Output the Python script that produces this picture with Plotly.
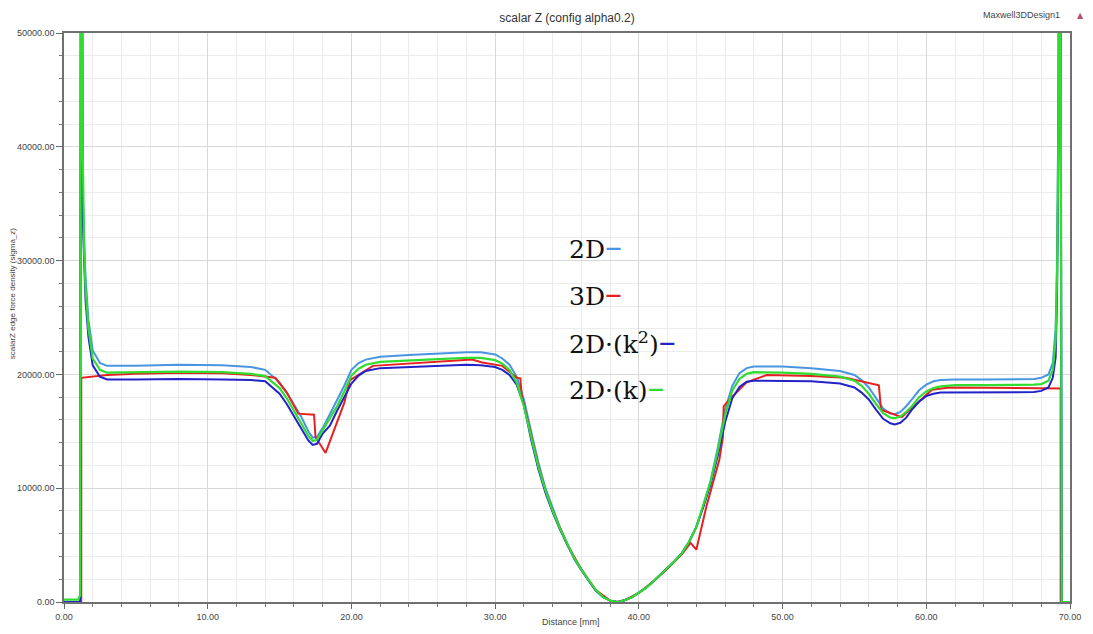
import plotly.graph_objects as go

# ---------------- data ----------------
distance_mm = [
    0.0, 1.0, 1.12, 1.2, 1.3, 1.4, 1.5, 1.7, 2.0, 2.5, 3.0,
    5.0, 8.0, 11.0, 13.0, 14.0, 15.0, 15.5, 16.0, 16.5, 17.0,
    17.3, 17.6, 18.0, 18.5, 19.0, 19.5, 20.0, 20.5, 21.0, 22.0,
    24.0, 26.0, 28.0, 29.0, 30.0, 30.5, 31.0, 31.5, 32.0, 32.5,
    33.0, 33.5, 34.0, 34.5, 35.0, 35.5, 36.0, 36.5, 37.0, 37.5,
    38.0, 38.5, 39.0, 39.5, 40.0, 40.5, 41.0, 41.5, 42.0, 42.5,
    43.0, 43.5, 44.0, 44.5, 45.0, 45.5, 46.0, 46.5, 47.0, 47.5,
    48.0, 50.0, 52.0, 54.0, 55.0, 55.5, 56.0, 56.5, 57.0, 57.5,
    57.8, 58.2, 58.6, 59.0, 59.5, 60.0, 60.5, 61.0, 62.0, 64.0,
    66.0, 67.5, 68.0, 68.5, 68.8, 69.0, 69.1, 69.2, 69.3, 69.42, 70.0,
]

sigma_2d = [
    0, 0, 0, 90000, 36000, 32000, 28500, 24800, 22100, 21000, 20750,
    20750, 20850, 20800, 20650, 20400, 19300, 18400, 17300, 16300, 15000,
    14450, 14500, 15300, 16500, 17700, 19000, 20400, 21000, 21300, 21550,
    21700, 21850, 21950, 21950, 21750, 21400, 20850, 19800, 17800, 15000,
    12300, 10000, 8200, 6600, 5200, 3900, 2900, 1900, 1050, 450,
    120, 0, 150, 400, 800, 1250, 1800, 2400, 3000, 3600,
    4300, 5300, 6600, 8500, 10700, 13600, 16900, 19000, 20100, 20550,
    20700, 20700, 20550, 20300, 19950, 19500, 18850, 17900, 17000, 16550,
    16500, 16700, 17200, 17800, 18600, 19100, 19400, 19500, 19550, 19550,
    19550, 19600, 19700, 20000, 21000, 24000, 30000, 45000, 90000, 0, 0,
]

sigma_2d_k2 = [
    0, 0, 0, 90000, 34000, 30000, 26500, 23300, 20800, 19800, 19550,
    19550, 19600, 19550, 19500, 19400, 18300, 17400, 16300, 15200, 14200,
    13800, 13900, 14800, 15500, 16800, 18000, 19200, 19900, 20300, 20550,
    20650, 20750, 20850, 20800, 20650, 20400, 19950, 19100, 17300, 14300,
    11700, 9600, 7900, 6400, 5050, 3800, 2800, 1850, 1000, 450,
    120, 0, 150, 400, 800, 1250, 1800, 2400, 3000, 3600,
    4300, 5300, 6600, 8400, 10400, 12900, 15800, 17900, 18900, 19350,
    19450, 19450, 19400, 19200, 18850, 18400, 17800, 16900, 16100, 15700,
    15600, 15750, 16200, 16900, 17600, 18100, 18300, 18400, 18400, 18400,
    18400, 18450, 18550, 18850, 19700, 21500, 27000, 40000, 90000, 0, 0,
]

sigma_2d_k = [
    200, 200, 600, 90000, 40000, 31000, 27500, 24000, 21400, 20400, 20150,
    20200, 20250, 20200, 20050, 19850, 18800, 17900, 16800, 15800, 14600,
    14150, 14250, 15100, 16100, 17200, 18500, 19900, 20500, 20850, 21100,
    21250, 21350, 21450, 21450, 21250, 20950, 20400, 19300, 17200, 14500,
    11900, 9800, 8000, 6500, 5150, 3850, 2850, 1900, 1050, 450,
    120, 0, 150, 400, 800, 1250, 1800, 2400, 3000, 3600,
    4300, 5300, 6600, 8500, 10600, 13300, 16400, 18600, 19600, 20050,
    20200, 20150, 20050, 19800, 19450, 19000, 18300, 17400, 16600, 16200,
    16150, 16300, 16700, 17200, 18000, 18500, 18800, 18950, 19050, 19050,
    19050, 19100, 19150, 19450, 20400, 23000, 29000, 42000, 90000, 0, 0,
]

distance_3d_mm = [
    0.0, 1.2, 1.2, 3.0, 5.0, 8.0, 11.0, 13.0, 14.7, 15.5,
    16.3, 17.4, 17.5, 18.2, 19.5, 19.9, 21.5, 25.0, 28.4, 29.1,
    30.5, 31.5, 31.75, 31.85, 32.5, 33.0, 33.5, 34.0, 35.0, 36.0,
    37.0, 38.0, 38.5, 39.0, 40.0, 41.0, 42.0, 43.0, 43.6, 44.0,
    44.7, 45.6, 45.85, 45.9, 46.3, 47.5, 48.9, 52.0, 54.4, 56.7,
    56.85, 58.3, 59.2, 60.4, 61.6, 66.0, 69.35, 69.35, 70.0,
]
sigma_3d = [
    0, 0, 19700, 19950, 20050, 20150, 20100, 19950, 19700, 18400,
    16550, 16450, 14500, 13100, 17500, 19500, 20750, 21000, 21300, 21050,
    20750, 19700, 19650, 18200, 14600, 12000, 9800, 8000, 5100, 2850,
    1050, 120, 0, 150, 800, 1800, 2950, 4200, 5200, 4600,
    8400, 12500, 14500, 17200, 17800, 19300, 19950, 19850, 19700, 19050,
    16900, 16250, 17300, 18650, 18850, 18800, 18760, 0, 0,
]

x_ticks = [0, 10, 20, 30, 40, 50, 60, 70]
y_ticks = [0, 10000, 20000, 30000, 40000, 50000]

series_names = ["2D", "3D", "2D·(k<sup>2</sup>)", "2D·(k)"]
series_colors = ["#4a95e0", "#e52222", "#2323c8", "#30dc30"]

# ---------------- figure ----------------
fig = go.Figure()
fig.add_trace(go.Scatter(x=distance_mm, y=sigma_2d, mode="lines",
                         line=dict(color=series_colors[0], width=2), showlegend=False))
fig.add_trace(go.Scatter(x=distance_3d_mm, y=sigma_3d, mode="lines",
                         line=dict(color=series_colors[1], width=2), showlegend=False))
fig.add_trace(go.Scatter(x=distance_mm, y=sigma_2d_k2, mode="lines",
                         line=dict(color=series_colors[2], width=2), showlegend=False))
fig.add_trace(go.Scatter(x=distance_mm, y=sigma_2d_k, mode="lines",
                         line=dict(color=series_colors[3], width=2.2), showlegend=False))

tick_font = dict(family="Liberation Sans, Arial, sans-serif", size=9, color="#444444")

fig.update_layout(
    width=1093, height=634,
    margin=dict(l=64, r=22, t=33, b=28, pad=0),
    paper_bgcolor="white", plot_bgcolor="white",
    title=dict(text="scalar Z (config alpha0.2)", x=0.5, xref="paper", xanchor="center",
               y=1 - 18 / 634, yref="container", yanchor="middle",
               font=dict(family="Liberation Sans, Arial, sans-serif", size=12, color="#333333")),
    xaxis=dict(range=[0, 70], tickvals=x_ticks, ticktext=[f"{v:.2f}" for v in x_ticks],
               ticks="outside", ticklen=5, tickcolor="#666666", tickfont=tick_font,
               showline=True, linecolor="#707070", linewidth=1.5, mirror=True,
               showgrid=True, gridcolor="#d8d8d8", gridwidth=1, zeroline=False,
               minor=dict(dtick=2, showgrid=True, gridcolor="#ececec", ticks="outside",
                          ticklen=3, tickcolor="#777777")),
    yaxis=dict(range=[0, 50000], tickvals=y_ticks, ticktext=[f"{v:.2f}" for v in y_ticks],
               ticks="outside", ticklen=6, tickcolor="#666666", tickfont=tick_font,
               showline=True, linecolor="#707070", linewidth=1.5, mirror=True,
               showgrid=True, gridcolor="#d8d8d8", gridwidth=1, zeroline=False,
               minor=dict(dtick=2000, showgrid=True, gridcolor="#ececec", ticks="outside",
                          ticklen=3, tickcolor="#777777")),
)

annotations = [
    dict(text="Maxwell3DDesign1", xref="paper", yref="paper", x=(1063 - 64) / 1007,
         y=1 + (33 - 15) / 573, xanchor="right", yanchor="middle", showarrow=False,
         font=dict(family="Liberation Sans, Arial, sans-serif", size=9, color="#444444")),
    dict(text="▲", xref="paper", yref="paper", x=(1082 - 64) / 1007,
         y=1 + (33 - 15) / 573, xanchor="center", yanchor="middle", showarrow=False,
         font=dict(family="DejaVu Sans", size=8, color="#b4506a")),
    dict(text="Distance [mm]", xref="paper", yref="paper", x=(572 - 64) / 1007,
         y=-(626 - 606) / 573, xanchor="center", yanchor="middle", showarrow=False,
         font=dict(family="Liberation Sans, Arial, sans-serif", size=9, color="#444444")),
    dict(text="scalarZ edge force density (sigma_z)", xref="paper", yref="paper",
         x=(12 - 64) / 1007, y=(606 - 295) / 573, xanchor="center", yanchor="middle",
         textangle=-90, showarrow=False,
         font=dict(family="Liberation Sans, Arial, sans-serif", size=8, color="#444444")),
]

legend_y = [31250, 27150, 22950, 18850]
for name, color, ly in zip(series_names, series_colors, legend_y):
    annotations.append(dict(
        text=f"{name}<span style='color:{color};font-size:34px'>–</span>",
        x=35.0, y=ly, xref="x", yref="y", xanchor="left", yanchor="middle",
        showarrow=False, font=dict(family="DejaVu Serif", size=25, color="#111111")))

fig.update_layout(annotations=annotations)

fig.write_html("out.html")
